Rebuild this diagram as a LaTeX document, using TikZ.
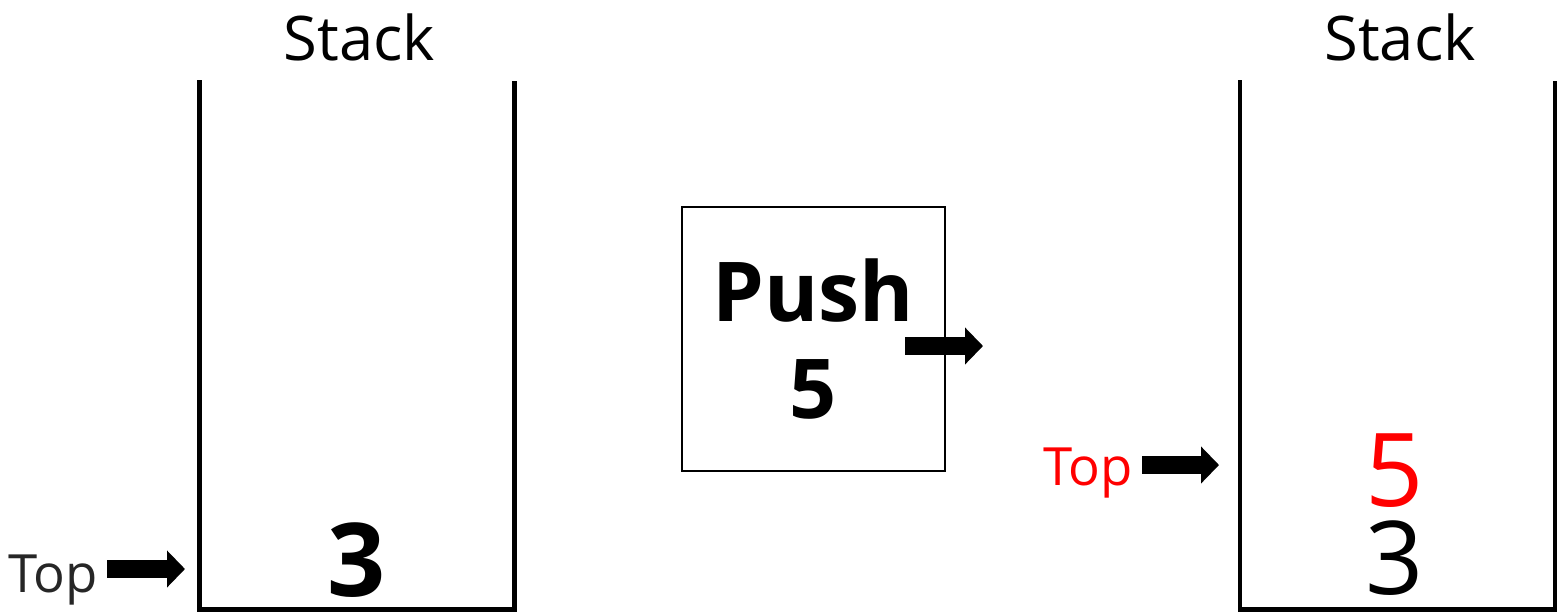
\documentclass[tikz,border=0pt]{standalone}
\usepackage{fontspec}
\setmainfont{Open Sans}
\usetikzlibrary{arrows.meta,positioning}
\definecolor{topgray}{HTML}{262626}
\tikzset{
    wall/.style = {draw, line width=1.4pt},
    stacklab/.style = {inner sep=0pt, anchor=base,
        font=\fontsize{17.5}{20}\selectfont},
    toplab/.style = {inner sep=0pt, anchor=base,
        font=\fontsize{15}{17}\selectfont},
    item/.style = {inner sep=0pt, anchor=base, text depth=0pt,
        font=\fontsize{29}{32}\selectfont},
    pushbox/.style = {draw, line width=0.6pt,
        minimum width=2.63cm, minimum height=2.64cm, align=center,
        font=\bfseries\fontsize{23.5}{27.6}\selectfont},
    fatarrow/.style = {draw, line width=5pt,
        -{Triangle[length=0.18cm,width=0.36cm]}}
}

\begin{document}
\begin{tikzpicture}
        \useasboundingbox (0,0) rectangle (15.6,6.14);
        % the two stacks
        \foreach \x/\n in {1.995/L,12.4/R}{
            \draw [wall] (\x,5.34) -- (\x,0.045) -- ++(3.15,0) -- ++(0,5.29);
            \node [stacklab] (stack\n) at (\x+1.6,5.54) {Stack};
        }
        \node [item, font=\bfseries\fontsize{29}{32}\selectfont] (itemL3) at (3.57,0.18) {3};
        \node [item, text=red] (itemR5) at (13.95,1.08) {5};
        \node [item] (itemR3) at (13.95,0.2) {3};
        % top pointers
        \node [toplab, text=topgray] (topL) at (0.53,0.22) {Top};
        \coordinate (tailL) at (1.07,0.45);
        \coordinate [right=0.78cm of tailL] (tipL);
        \draw [fatarrow] (tailL) -- (tipL);
        \node [toplab, text=red] (topR) at (10.88,1.29) {Top};
        \coordinate (tailR) at (11.42,1.49);
        \coordinate [right=0.77cm of tailR] (tipR);
        \draw [fatarrow] (tailR) -- (tipR);
        % push operation
        \node [pushbox] (push) at (8.135,2.75) {Push\\5};
        \coordinate (tailP) at (9.05,2.68);
        \coordinate [right=0.78cm of tailP] (tipP);
        \draw [fatarrow] (tailP) -- (tipP);
\end{tikzpicture}
\end{document}
